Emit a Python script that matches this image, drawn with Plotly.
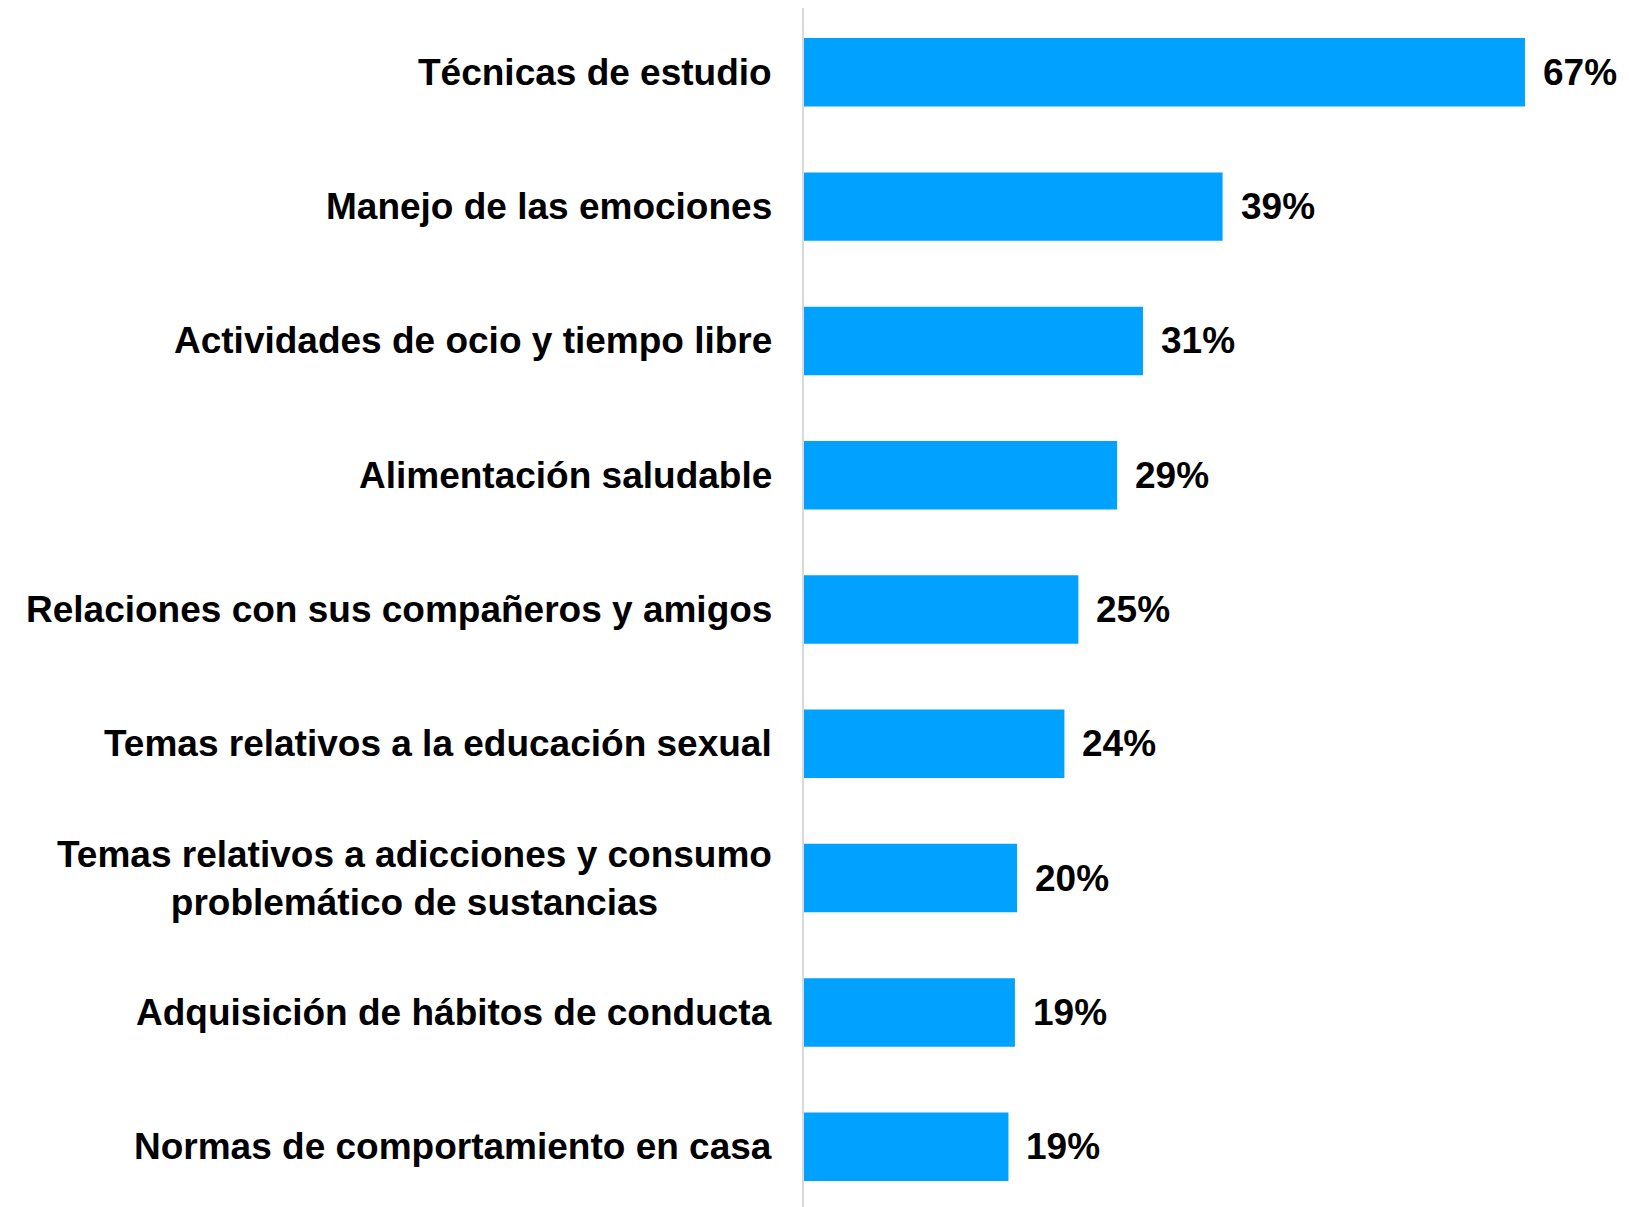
import plotly.graph_objects as go

# categories from top to bottom
categories = [
    "Técnicas de estudio",
    "Manejo de las emociones",
    "Actividades de ocio y tiempo libre",
    "Alimentación saludable",
    "Relaciones con sus compañeros y amigos",
    "Temas relativos a la educación sexual",
    "Temas relativos a adicciones y consumo<br>problemático de sustancias",
    "Adquisición de hábitos de conducta",
    "Normas de comportamiento en casa",
]
values = [67.0, 38.9, 31.5, 29.1, 25.5, 24.2, 19.8, 19.6, 19.0]
value_labels = ["67%", "39%", "31%", "29%", "25%", "24%", "20%", "19%", "19%"]

bar_color = "#00A1FF"
label_font = dict(family="Liberation Sans, Arial, sans-serif", size=37, color="black", weight="bold")

fig = go.Figure()
fig.add_trace(go.Bar(
    x=values,
    y=categories,
    orientation="h",
    marker=dict(color=bar_color, line=dict(width=0)),
    hoverinfo="skip",
))

annotations = []
# category labels on the left (multi-line one centred, as in the original)
for cat in categories:
    annotations.append(dict(
        xref="paper", x=0, xanchor="right", xshift=-30,
        yref="y", y=cat, yanchor="middle",
        text=cat, showarrow=False, align="center",
        font=label_font,
    ))

# value labels just after each bar
for cat, v, lab in zip(categories, values, value_labels):
    annotations.append(dict(
        xref="x", x=v, xanchor="left", xshift=16,
        yref="y", y=cat, yanchor="middle",
        text=lab, showarrow=False,
        font=label_font,
    ))

fig.update_layout(
    width=1621,
    height=1199,
    margin=dict(l=796, r=0, t=0, b=0),
    paper_bgcolor="white",
    plot_bgcolor="white",
    bargap=0.49,
    showlegend=False,
    annotations=annotations,
    xaxis=dict(range=[0, 76.67], visible=False, fixedrange=True),
    yaxis=dict(
        categoryorder="array",
        categoryarray=categories,
        range=[8.449, -0.479],
        showticklabels=False,
        ticks="",
        showgrid=False,
        zeroline=False,
        showline=True,
        linecolor="#D9D9D9",
        linewidth=1.5,
        fixedrange=True,
    ),
)

fig.write_html("out.html")
